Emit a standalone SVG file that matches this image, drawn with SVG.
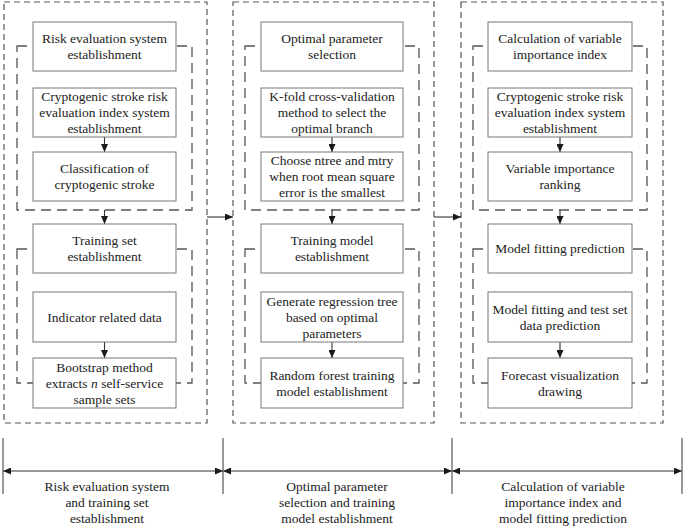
<svg xmlns="http://www.w3.org/2000/svg" width="685" height="529" viewBox="0 0 685 529">
<defs>
<marker id="ah" markerWidth="8" markerHeight="7" refX="8" refY="3.5" orient="auto-start-reverse" markerUnits="userSpaceOnUse">
<path d="M0,0 L8,3.5 L0,7 z" fill="#1a1a1a"/>
</marker>
</defs>
<style>
.outer{fill:none;stroke:#555;stroke-width:1.2;stroke-dasharray:6 4}
.grp{fill:none;stroke:#555;stroke-width:1.3;stroke-dasharray:10 6}
.box{fill:#fff;stroke:#777;stroke-width:1}
text{font-family:"Liberation Serif","Times New Roman",serif;font-size:13.5px;fill:#222;text-anchor:middle}
.ln{stroke:#333;stroke-width:1.1;fill:none}
.tick{stroke:#555;stroke-width:1.2}
</style>
<rect width="685" height="529" fill="#fff"/>

<g id="frames">
<rect class="outer" x="4" y="2" width="203" height="421"/>
<rect class="outer" x="233" y="2" width="201" height="421"/>
<rect class="outer" x="461" y="2" width="202" height="421"/>
<rect class="grp" x="17" y="46" width="175" height="164"/>
<rect class="grp" x="17" y="249" width="175" height="134"/>
<rect class="grp" x="245" y="46" width="174" height="164"/>
<rect class="grp" x="245" y="249" width="174" height="134"/>
<rect class="grp" x="473" y="46" width="174" height="164"/>
<rect class="grp" x="473" y="249" width="174" height="134"/>
</g>

<g id="connectors">
<line class="ln" x1="104.5" y1="137" x2="104.5" y2="152" marker-end="url(#ah)"/>
<line class="ln" x1="104.5" y1="210" x2="104.5" y2="224" marker-end="url(#ah)"/>
<line class="ln" x1="104.5" y1="342" x2="104.5" y2="358" marker-end="url(#ah)"/>
<line class="ln" x1="332" y1="137" x2="332" y2="152" marker-end="url(#ah)"/>
<line class="ln" x1="332" y1="210" x2="332" y2="224" marker-end="url(#ah)"/>
<line class="ln" x1="332" y1="342" x2="332" y2="358" marker-end="url(#ah)"/>
<line class="ln" x1="560" y1="137" x2="560" y2="152" marker-end="url(#ah)"/>
<line class="ln" x1="560" y1="210" x2="560" y2="224" marker-end="url(#ah)"/>
<line class="ln" x1="560" y1="342" x2="560" y2="358" marker-end="url(#ah)"/>
<line class="ln" x1="207" y1="217" x2="233" y2="217" marker-end="url(#ah)"/>
<line class="ln" x1="434" y1="217" x2="461" y2="217" marker-end="url(#ah)"/>
<line class="ln" x1="3" y1="471" x2="223" y2="471" marker-start="url(#ah)" marker-end="url(#ah)"/>
<line class="ln" x1="223" y1="471" x2="452" y2="471" marker-start="url(#ah)" marker-end="url(#ah)"/>
<line class="ln" x1="452" y1="471" x2="682" y2="471" marker-start="url(#ah)" marker-end="url(#ah)"/>
<line class="tick" x1="3" y1="438" x2="3" y2="494"/>
<line class="tick" x1="223" y1="438" x2="223" y2="494"/>
<line class="tick" x1="452" y1="438" x2="452" y2="494"/>
<line class="tick" x1="682" y1="438" x2="682" y2="494"/>
</g>

<g id="c1n1"><rect class="box" x="33" y="22" width="143" height="49"/><text x="104.5" y="42.5">Risk evaluation system</text><text x="104.5" y="58.5">establishment</text></g>
<g id="c1n2"><rect class="box" x="33" y="88" width="143" height="49"/><text x="104.5" y="101">Cryptogenic stroke risk</text><text x="104.5" y="117">evaluation index system</text><text x="104.5" y="133">establishment</text></g>
<g id="c1n3"><rect class="box" x="33" y="152" width="143" height="49"/><text x="104.5" y="173">Classification of</text><text x="104.5" y="189">cryptogenic stroke</text></g>
<g id="c1n4"><rect class="box" x="33" y="224" width="143" height="49"/><text x="104.5" y="245">Training set</text><text x="104.5" y="261">establishment</text></g>
<g id="c1n5"><rect class="box" x="33" y="292" width="143" height="50"/><text x="104.5" y="321.5">Indicator related data</text></g>
<g id="c1n6"><rect class="box" x="33" y="358" width="143" height="50"/><text x="104.5" y="371.5">Bootstrap method</text><text x="104.5" y="387.5">extracts <tspan font-style="italic">n</tspan> self-service</text><text x="104.5" y="403.5">sample sets</text></g>

<g id="c2n1"><rect class="box" x="261" y="22" width="142" height="49"/><text x="332" y="42.5">Optimal parameter</text><text x="332" y="58.5">selection</text></g>
<g id="c2n2"><rect class="box" x="261" y="88" width="142" height="49"/><text x="332" y="101">K-fold cross-validation</text><text x="332" y="117">method to select the</text><text x="332" y="133">optimal branch</text></g>
<g id="c2n3"><rect class="box" x="261" y="152" width="142" height="49"/><text x="332" y="165">Choose ntree and mtry</text><text x="332" y="181">when root mean square</text><text x="332" y="197">error is the smallest</text></g>
<g id="c2n4"><rect class="box" x="261" y="224" width="142" height="49"/><text x="332" y="245">Training model</text><text x="332" y="261">establishment</text></g>
<g id="c2n5"><rect class="box" x="261" y="292" width="142" height="50"/><text x="332" y="305.5">Generate regression tree</text><text x="332" y="321.5">based on optimal</text><text x="332" y="337.5">parameters</text></g>
<g id="c2n6"><rect class="box" x="261" y="358" width="142" height="50"/><text x="332" y="379.5">Random forest training</text><text x="332" y="395.5">model establishment</text></g>

<g id="c3n1"><rect class="box" x="488" y="22" width="144" height="49"/><text x="560" y="42.5">Calculation of variable</text><text x="560" y="58.5">importance index</text></g>
<g id="c3n2"><rect class="box" x="488" y="88" width="144" height="49"/><text x="560" y="101">Cryptogenic stroke risk</text><text x="560" y="117">evaluation index system</text><text x="560" y="133">establishment</text></g>
<g id="c3n3"><rect class="box" x="488" y="152" width="144" height="49"/><text x="560" y="173">Variable importance</text><text x="560" y="189">ranking</text></g>
<g id="c3n4"><rect class="box" x="488" y="224" width="144" height="49"/><text x="560" y="253">Model fitting prediction</text></g>
<g id="c3n5"><rect class="box" x="488" y="292" width="144" height="50"/><text x="560" y="313.5">Model fitting and test set</text><text x="560" y="329.5">data prediction</text></g>
<g id="c3n6"><rect class="box" x="488" y="358" width="144" height="50"/><text x="560" y="379.5">Forecast visualization</text><text x="560" y="395.5">drawing</text></g>

<g id="labels">
<text x="107" y="491">Risk evaluation system</text><text x="107" y="507">and training set</text><text x="107" y="523">establishment</text>
<text x="337" y="491">Optimal parameter</text><text x="337" y="507">selection and training</text><text x="337" y="523">model establishment</text>
<text x="563" y="491">Calculation of variable</text><text x="563" y="507">importance index and</text><text x="563" y="523">model fitting prediction</text>
</g>
</svg>
